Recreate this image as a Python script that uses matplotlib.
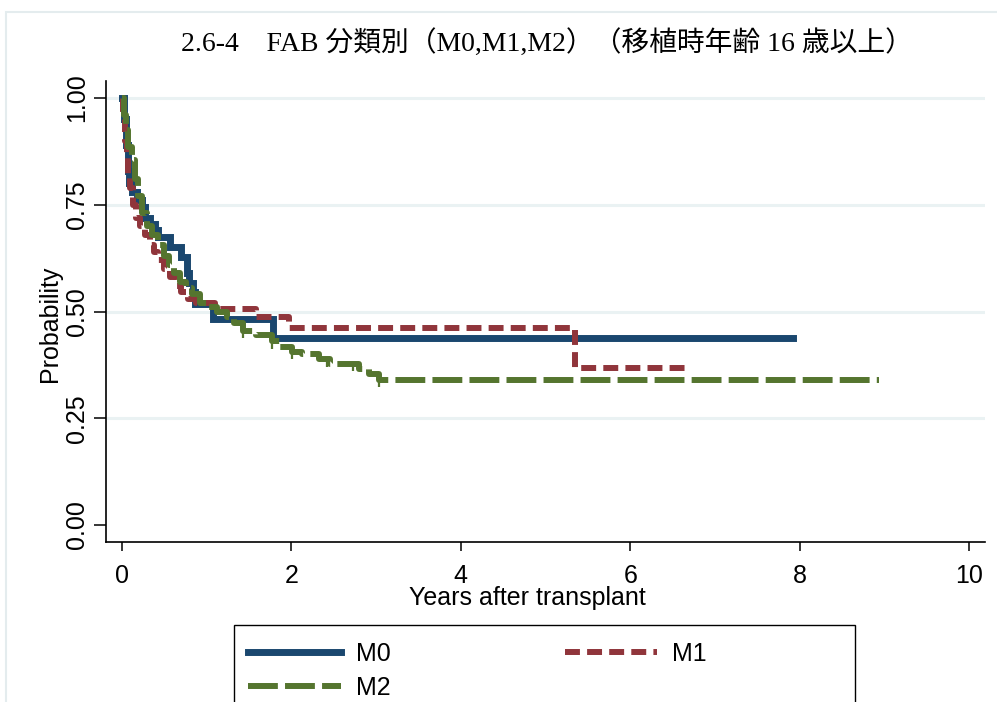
import numpy as np
import matplotlib
matplotlib.use('Agg')
import matplotlib.pyplot as plt
from matplotlib.patches import Rectangle

# Kaplan-Meier step curves (years, survival)
m0_t = [0.00, 0.03, 0.05, 0.07, 0.09, 0.12, 0.18, 0.24, 0.28, 0.33, 0.39, 0.43,
        0.57, 0.70, 0.77, 0.79, 0.84, 0.87, 1.08, 1.79, 7.92]
m0_s = [1.00, 0.95, 0.89, 0.83, 0.80, 0.78, 0.76, 0.745, 0.72, 0.705, 0.69, 0.675,
        0.65, 0.628, 0.59, 0.567, 0.545, 0.518, 0.482, 0.438, 0.438]

m1_t = [0.00, 0.02, 0.04, 0.06, 0.08, 0.10, 0.13, 0.17, 0.22, 0.27, 0.33, 0.38,
        0.43, 0.50, 0.57, 0.64, 0.70, 0.78, 0.88, 1.10, 1.58, 1.97, 5.35, 6.68]
m1_s = [1.00, 0.95, 0.90, 0.86, 0.82, 0.79, 0.75, 0.72, 0.70, 0.68, 0.655, 0.64,
        0.62, 0.60, 0.58, 0.56, 0.545, 0.53, 0.52, 0.505, 0.487, 0.462, 0.368, 0.368]

m2_t = [0.00, 0.03, 0.05, 0.08, 0.12, 0.16, 0.19, 0.24, 0.30, 0.36, 0.43, 0.50,
        0.56, 0.62, 0.69, 0.76, 0.83, 0.92, 1.02, 1.12, 1.24, 1.33, 1.43, 1.58,
        1.77, 1.87, 2.01, 2.13, 2.33, 2.46, 2.80, 2.92, 3.03, 8.93]
m2_s = [1.00, 0.96, 0.925, 0.885, 0.855, 0.81, 0.77, 0.73, 0.70, 0.68, 0.655, 0.63,
        0.61, 0.59, 0.57, 0.555, 0.54, 0.52, 0.51, 0.50, 0.487, 0.473, 0.455, 0.445,
        0.43, 0.417, 0.405, 0.40, 0.388, 0.377, 0.365, 0.354, 0.34, 0.34]

# censoring ticks on M2
m2_cens = [1.43, 1.77, 2.01, 2.42, 2.73, 3.03]

xticks = [0, 2, 4, 6, 8, 10]
yticks = [0.00, 0.25, 0.50, 0.75, 1.00]
ylabels = ['0.00', '0.25', '0.50', '0.75', '1.00']

title = '2.6-4\u3000FAB 分類別（M0,M1,M2）（移植時年齢 16 歳以上）'

navy = '#1a476f'
maroon = '#90353b'
green = '#55752f'

W, H = 997, 702
fig = plt.figure(figsize=(W / 100, H / 100), dpi=100)
plt.rcParams['font.family'] = ['Liberation Sans', 'DejaVu Sans']

ax = fig.add_axes([106 / W, 1 - 542 / H, (985 - 106) / W, (542 - 81) / H])

# grid lines (no line at zero)
for v in yticks[1:]:
    ax.axhline(v, color='#eaf2f3', lw=2.2, zorder=0)

l0, = ax.plot(m0_t, m0_s, drawstyle='steps-post', color=navy, lw=5.0,
              solid_joinstyle='miter', label='M0', zorder=3)
l1, = ax.plot(m1_t, m1_s, drawstyle='steps-post', color=maroon, lw=4.3,
              dashes=(2.5, 1.2), label='M1', zorder=4)
l2, = ax.plot(m2_t, m2_s, drawstyle='steps-post', color=green, lw=4.3,
              dashes=(5.0, 1.2), label='M2', zorder=5)

idx = np.searchsorted(m2_t, m2_cens, side='right') - 1
ax.plot(m2_cens, np.array(m2_s)[idx] - 0.008, linestyle='none', marker='|',
        markersize=6, mew=1.6, color=green, zorder=5)

ax.set_xlim(-0.185, 10.185)
ax.set_ylim(-0.0398, 1.0398)
ax.set_xticks(xticks)
ax.set_yticks(yticks)
ax.set_yticklabels(ylabels, rotation=90, va='center')
ax.tick_params(axis='x', length=6.7, width=1.1, pad=9, labelsize=18)
ax.tick_params(axis='y', length=8.5, width=1.1, pad=4, labelsize=18)
for s in ['top', 'right']:
    ax.spines[s].set_visible(False)
for s in ['left', 'bottom']:
    ax.spines[s].set_linewidth(1.2)

fig.text(50 / W, 1 - 324 / H, 'Probability', rotation=90, ha='center',
         va='center', fontsize=18)
fig.text(527 / W, 1 - 598 / H, 'Years after transplant', ha='center',
         va='center', fontsize=18)
fig.text(547 / W, 1 - 43 / H, title, ha='center', va='center', fontsize=20,
         family=['Liberation Serif', 'Noto Sans CJK JP'])

# outer graph region border and legend box (both run past the image edge)
fig.patches.append(Rectangle((6 / W, -0.1), 1.2, (H - 12) / H + 0.1,
                             transform=fig.transFigure, fill=False,
                             edgecolor='#e4ecee', lw=1.5))
fig.patches.append(Rectangle((234 / W, -0.1), (855 - 234) / W, (H - 625) / H + 0.1,
                             transform=fig.transFigure, fill=False,
                             edgecolor='black', lw=1.0))

fig.legend(handles=[l0, l2, l1], ncol=2, loc='upper left',
           bbox_to_anchor=(248 / W, 1 - 642 / H), frameon=False, fontsize=18,
           borderpad=0, borderaxespad=0, handlelength=3.7, handletextpad=0.62,
           columnspacing=6.95, labelspacing=0.4)

fig.savefig('out.png', dpi=100)
